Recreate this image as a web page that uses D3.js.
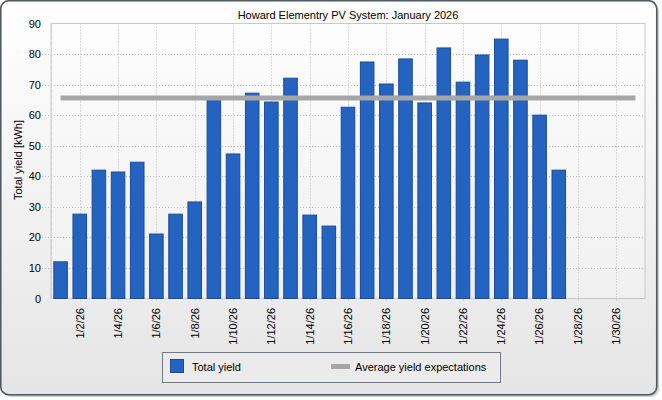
<!DOCTYPE html>
<html><head><meta charset="utf-8">
<script src="https://cdn.jsdelivr.net/npm/d3@7"></script>
<style>
html,body{margin:0;padding:0;background:#ffffff;}
svg{display:block;font-family:"Liberation Sans",Arial,sans-serif;}
</style></head>
<body>
<svg id="chart" width="662" height="400"></svg>
<script>
const title = "Howard Elementry PV System: January 2026";
const yAxisLabel = "Total yield [kWh]";
const days = d3.range(1, 32).map(d => "1/" + d + "/26");
const totalYield = [12.0, 27.6, 42.0, 41.4, 44.6, 21.1, 27.6, 31.6, 65.0, 47.3, 67.2, 64.3, 72.1, 27.3, 23.7,
                    62.6, 77.4, 70.2, 78.4, 64.0, 82.0, 70.8, 79.7, 84.9, 78.0, 60.0, 42.0];
const averageExpectation = 65.6;
const yTicks = [0, 10, 20, 30, 40, 50, 60, 70, 80, 90];
const legendLabels = ["Total yield", "Average yield expectations"];

const svg = d3.select("#chart");
const defs = svg.append("defs");
const bg = defs.append("linearGradient").attr("id", "bg").attr("x1", 0).attr("y1", 0).attr("x2", 0).attr("y2", 1);
bg.append("stop").attr("offset", "0%").attr("stop-color", "#ffffff");
bg.append("stop").attr("offset", "100%").attr("stop-color", "#e5e5e5");
const pg = defs.append("linearGradient").attr("id", "pg").attr("x1", 0).attr("y1", 0).attr("x2", 0).attr("y2", 1);
pg.append("stop").attr("offset", "0%").attr("stop-color", "#fdfdfd");
pg.append("stop").attr("offset", "100%").attr("stop-color", "#f0f0f0");

// outer frame with shadow
svg.append("rect").attr("x", 3).attr("y", 3).attr("width", 656).attr("height", 394).attr("rx", 8)
  .attr("fill", "#d0d0d0");
svg.append("rect").attr("x", 0.75).attr("y", 0.75).attr("width", 656).attr("height", 394).attr("rx", 8)
  .attr("fill", "url(#bg)").attr("stroke", "#4d5963").attr("stroke-width", 1.6);

const L = 51, R = 645, T = 23.5, B = 298.5;
const x = d3.scaleBand().domain(days).range([L, R]).paddingInner(0.24).paddingOuter(0.12);
const y = d3.scaleLinear().domain([0, 90]).range([B, T]);

svg.append("rect").attr("x", L).attr("y", T).attr("width", R - L).attr("height", B - T)
  .attr("fill", "url(#pg)").attr("stroke", "#c8c8c8").attr("stroke-width", 1);

// grid
const gridH = svg.append("g");
gridH.selectAll("line").data(yTicks.filter(t => t > 0 && t < 90)).join("line")
  .attr("x1", L - 12).attr("x2", R).attr("y1", d => Math.round(y(d)) + 0.5).attr("y2", d => Math.round(y(d)) + 0.5)
  .attr("stroke", "#bdbdbd").attr("stroke-dasharray", "1,2");
const labelDays = days.filter((d, i) => i % 2 === 1);
const gridV = svg.append("g");
gridV.selectAll("line").data(labelDays).join("line")
  .attr("x1", d => Math.round(x(d) + x.bandwidth() / 2) + 0.5).attr("x2", d => Math.round(x(d) + x.bandwidth() / 2) + 0.5)
  .attr("y1", T).attr("y2", B + 4)
  .attr("stroke", "#bdbdbd").attr("stroke-dasharray", "1,2");

// left axis line dashed
svg.append("line").attr("x1", L + 0.5).attr("x2", L + 0.5).attr("y1", T).attr("y2", B)
  .attr("stroke", "#cfcfcf").attr("stroke-dasharray", "4,2");

// bars
svg.append("g").selectAll("rect").data(totalYield).join("rect")
  .attr("x", (d, i) => x(days[i]) + 0.5)
  .attr("width", x.bandwidth() - 1)
  .attr("y", d => y(d))
  .attr("height", d => B - y(d))
  .attr("fill", "#2563c1").attr("stroke", "#1a4b9c").attr("stroke-width", 1);

// average line
svg.append("line")
  .attr("x1", x(days[0]) + x.bandwidth() / 2).attr("x2", x(days[days.length - 1]) + x.bandwidth() / 2)
  .attr("y1", y(averageExpectation)).attr("y2", y(averageExpectation))
  .attr("stroke", "#a6a6a6").attr("stroke-width", 5);

// y axis labels
const yAxis = d3.axisLeft(y).tickValues(yTicks).tickSize(0).tickPadding(10);
const yg = svg.append("g").attr("transform", `translate(${L},0)`).call(yAxis);
yg.select(".domain").remove();
yg.selectAll("text").attr("font-size", 11).attr("font-family", "Liberation Sans, Arial, sans-serif").attr("fill", "#000");

// x axis labels
const xAxis = d3.axisBottom(x).tickValues(labelDays).tickSize(0);
const xg = svg.append("g").attr("transform", `translate(0,${B})`).call(xAxis);
xg.select(".domain").remove();
xg.selectAll("text")
  .attr("font-size", 11).attr("font-family", "Liberation Sans, Arial, sans-serif").attr("fill", "#000")
  .attr("transform", "rotate(-90)")
  .attr("text-anchor", "end")
  .attr("x", -9.5).attr("y", 0).attr("dy", "0.35em");

// title
svg.append("text").attr("x", 348).attr("y", 19).attr("text-anchor", "middle")
  .attr("font-size", 11).attr("fill", "#000").text(title);

// y axis title
svg.append("text").attr("transform", "translate(22,160) rotate(-90)").attr("text-anchor", "middle")
  .attr("font-size", 11).attr("fill", "#000").text(yAxisLabel);

// legend
const lg = svg.append("g");
lg.append("rect").attr("x", 162.5).attr("y", 352.5).attr("width", 338).attr("height", 30)
  .attr("fill", "#ebebeb").attr("stroke", "#6e7c8a").attr("stroke-width", 1);
lg.append("rect").attr("x", 170.5).attr("y", 359.5).attr("width", 13).attr("height", 13)
  .attr("fill", "#2563c1").attr("stroke", "#1a4b9c");
lg.append("text").attr("x", 192).attr("y", 370.5).attr("font-size", 11).attr("fill", "#000").text(legendLabels[0]);
lg.append("line").attr("x1", 331).attr("x2", 350).attr("y1", 366.5).attr("y2", 366.5)
  .attr("stroke", "#a6a6a6").attr("stroke-width", 5);
lg.append("text").attr("x", 355).attr("y", 370.5).attr("font-size", 11).attr("fill", "#000").text(legendLabels[1]);
</script>
</body></html>
